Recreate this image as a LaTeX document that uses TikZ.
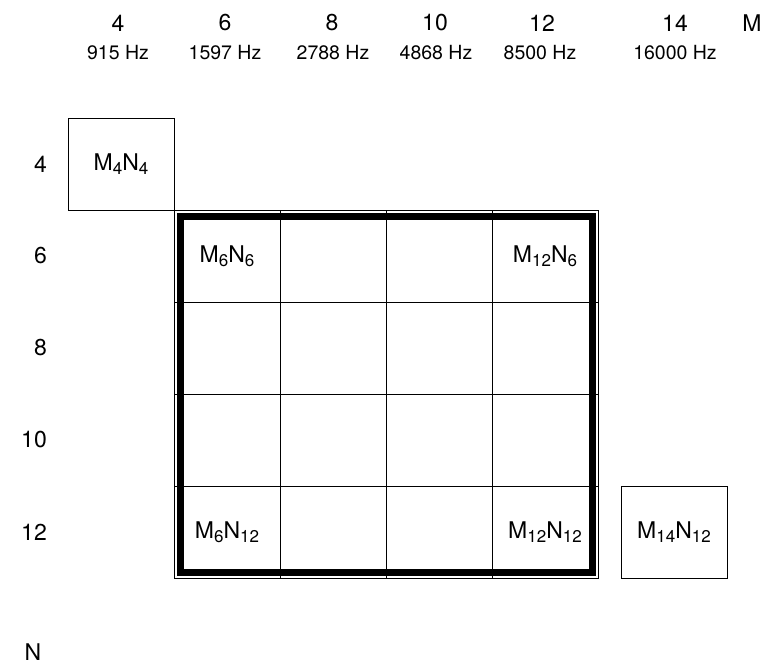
\documentclass[tikz,border=0pt]{standalone}
\usepackage{fontspec}
\setmainfont{TeX Gyre Heros}
% subscript index set smaller and lowered
\newcommand\idx[1]{\raisebox{-4pt}{\fontsize{17}{17}\selectfont #1}}
\newcommand\cellname[2]{M\idx{#1}N\idx{#2}}
\begin{document}
\begin{tikzpicture}[x=1pt,y=-1pt,
  biglabel/.style={font=\fontsize{23}{27}\selectfont, inner sep=0pt},
  hzlabel/.style={font=\fontsize{19.5}{23}\selectfont, inner sep=0pt},
  rowlabel/.style={biglabel, anchor=east},
  cell/.style={draw, line width=1pt, rectangle, minimum width=106pt, minimum height=92pt,
    inner sep=0pt, outer sep=0pt, font=\fontsize{23}{27}\selectfont},
  frame/.style={line width=7pt}]
\useasboundingbox (0,0) rectangle (769,667);

% column headings
\node[biglabel] (m4)  at (118,23) {4};
\node[biglabel] (m6)  at (225,23) {6};
\node[biglabel] (m8)  at (332,23) {8};
\node[biglabel] (m10) at (435,23) {10};
\node[biglabel] (m12) at (542,23) {12};
\node[biglabel] (m14) at (675,23) {14};
\node[biglabel] (mlab) at (752,23) {M};

\node[hzlabel] (f4)  at (118,53) {915 Hz};
\node[hzlabel] (f6)  at (225,53) {1597 Hz};
\node[hzlabel] (f8)  at (333,53) {2788 Hz};
\node[hzlabel] (f10) at (436,53) {4868 Hz};
\node[hzlabel] (f12) at (540,53) {8500 Hz};
\node[hzlabel] (f14) at (675,53) {16000 Hz};

% row headings
\node[rowlabel] (n4)  at (47,164) {4};
\node[rowlabel] (n6)  at (47,256) {6};
\node[rowlabel] (n8)  at (47,348) {8};
\node[rowlabel] (n10) at (47,440) {10};
\node[rowlabel] (n12) at (47,532) {12};
\node[biglabel] (nlab) at (33,652) {N};

% single configurations outside the main block
\node[cell] (c4-4)   at (121,164) {\cellname{4}{4}};
\node[cell] (c14-12) at (674,532) {\cellname{14}{12}};

% main 4x4 block
\node[cell] (c6-6)   at (227,256) {\cellname{6}{6}};
\node[cell] (c8-6)   at (333,256) {};
\node[cell] (c10-6)  at (439,256) {};
\node[cell] (c12-6)  at (545,256) {\cellname{12}{6}};
\node[cell] (c6-8)   at (227,348) {};
\node[cell] (c8-8)   at (333,348) {};
\node[cell] (c10-8)  at (439,348) {};
\node[cell] (c12-8)  at (545,348) {};
\node[cell] (c6-10)  at (227,440) {};
\node[cell] (c8-10)  at (333,440) {};
\node[cell] (c10-10) at (439,440) {};
\node[cell] (c12-10) at (545,440) {};
\node[cell] (c6-12)  at (227,532) {\cellname{6}{12}};
\node[cell] (c8-12)  at (333,532) {};
\node[cell] (c10-12) at (439,532) {};
\node[cell] (c12-12) at (545,532) {\cellname{12}{12}};

% heavy frame just inside the block
\draw[frame] ([xshift=6.5pt,yshift=-6pt]c6-6.north west) rectangle
             ([xshift=-6pt,yshift=6pt]c12-12.south east);
\end{tikzpicture}
\end{document}
